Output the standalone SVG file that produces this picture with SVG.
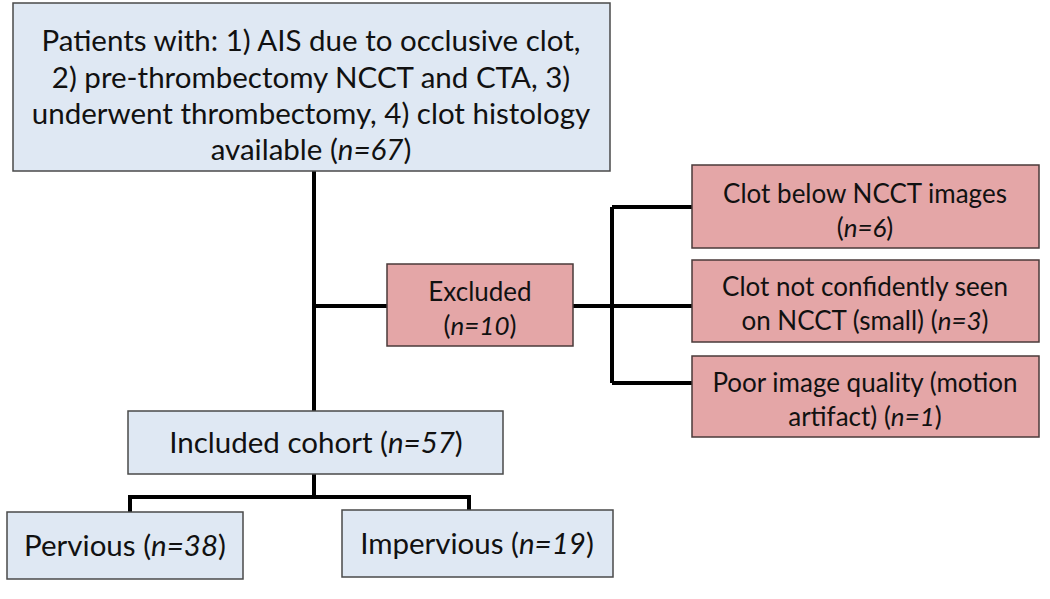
<svg xmlns="http://www.w3.org/2000/svg" width="1050" height="599" viewBox="0 0 1050 599">
<style>
.blue{fill:#dfe8f3;stroke:#4a4a4a;stroke-width:1.5}
.red{fill:#e4a6a7;stroke:#4a3a3a;stroke-width:1.5}
text{font-family:Lato,"Open Sans","Liberation Sans",sans-serif;font-size:29.5px;fill:#111;text-anchor:middle}
.s{font-size:26px}
.conn{fill:none;stroke:#000;stroke-width:4;stroke-linejoin:miter}
</style>
<rect width="1050" height="599" fill="#fff"/>
<g id="connectors">
<path class="conn" d="M314 171V411M314 306H387M573 306H692M612 207V383M612 207H692M612 383H692M314 474V497M130 512V497H469V510"/>
</g>
<g id="patients">
<rect class="blue" x="13" y="3" width="597" height="168"/>
<text x="311" y="51">Patients with: 1) AIS due to occlusive clot,</text>
<text x="311" y="88">2) pre-thrombectomy NCCT and CTA, 3)</text>
<text x="311" y="124">underwent thrombectomy, 4) clot histology</text>
<text x="311" y="160">available (<tspan font-style="italic">n=67</tspan>)</text>
</g>
<g id="excluded">
<rect class="red" x="387" y="264" width="186" height="82"/>
<text class="s" x="480" y="301">Excluded</text>
<text class="s" x="480" y="335">(<tspan font-style="italic">n=10</tspan>)</text>
</g>
<g id="clot-below">
<rect class="red" x="692" y="165" width="347" height="83"/>
<text class="s" x="865" y="203">Clot below NCCT images</text>
<text class="s" x="865" y="237">(<tspan font-style="italic">n=6</tspan>)</text>
</g>
<g id="clot-not-seen">
<rect class="red" x="692" y="260" width="347" height="82"/>
<text class="s" x="865" y="296">Clot not confidently seen</text>
<text class="s" x="865" y="330">on NCCT (small) (<tspan font-style="italic">n=3</tspan>)</text>
</g>
<g id="poor-quality">
<rect class="red" x="692" y="356" width="347" height="81"/>
<text class="s" x="865" y="392">Poor image quality (motion</text>
<text class="s" x="865" y="426">artifact) (<tspan font-style="italic">n=1</tspan>)</text>
</g>
<g id="included">
<rect class="blue" x="128" y="411" width="375" height="63"/>
<text x="316" y="453">Included cohort (<tspan font-style="italic">n=57</tspan>)</text>
</g>
<g id="pervious">
<rect class="blue" x="7" y="512" width="236" height="67"/>
<text x="125" y="556">Pervious (<tspan font-style="italic">n=38</tspan>)</text>
</g>
<g id="impervious">
<rect class="blue" x="342" y="510" width="271" height="67"/>
<text x="477" y="554">Impervious (<tspan font-style="italic">n=19</tspan>)</text>
</g>
</svg>
